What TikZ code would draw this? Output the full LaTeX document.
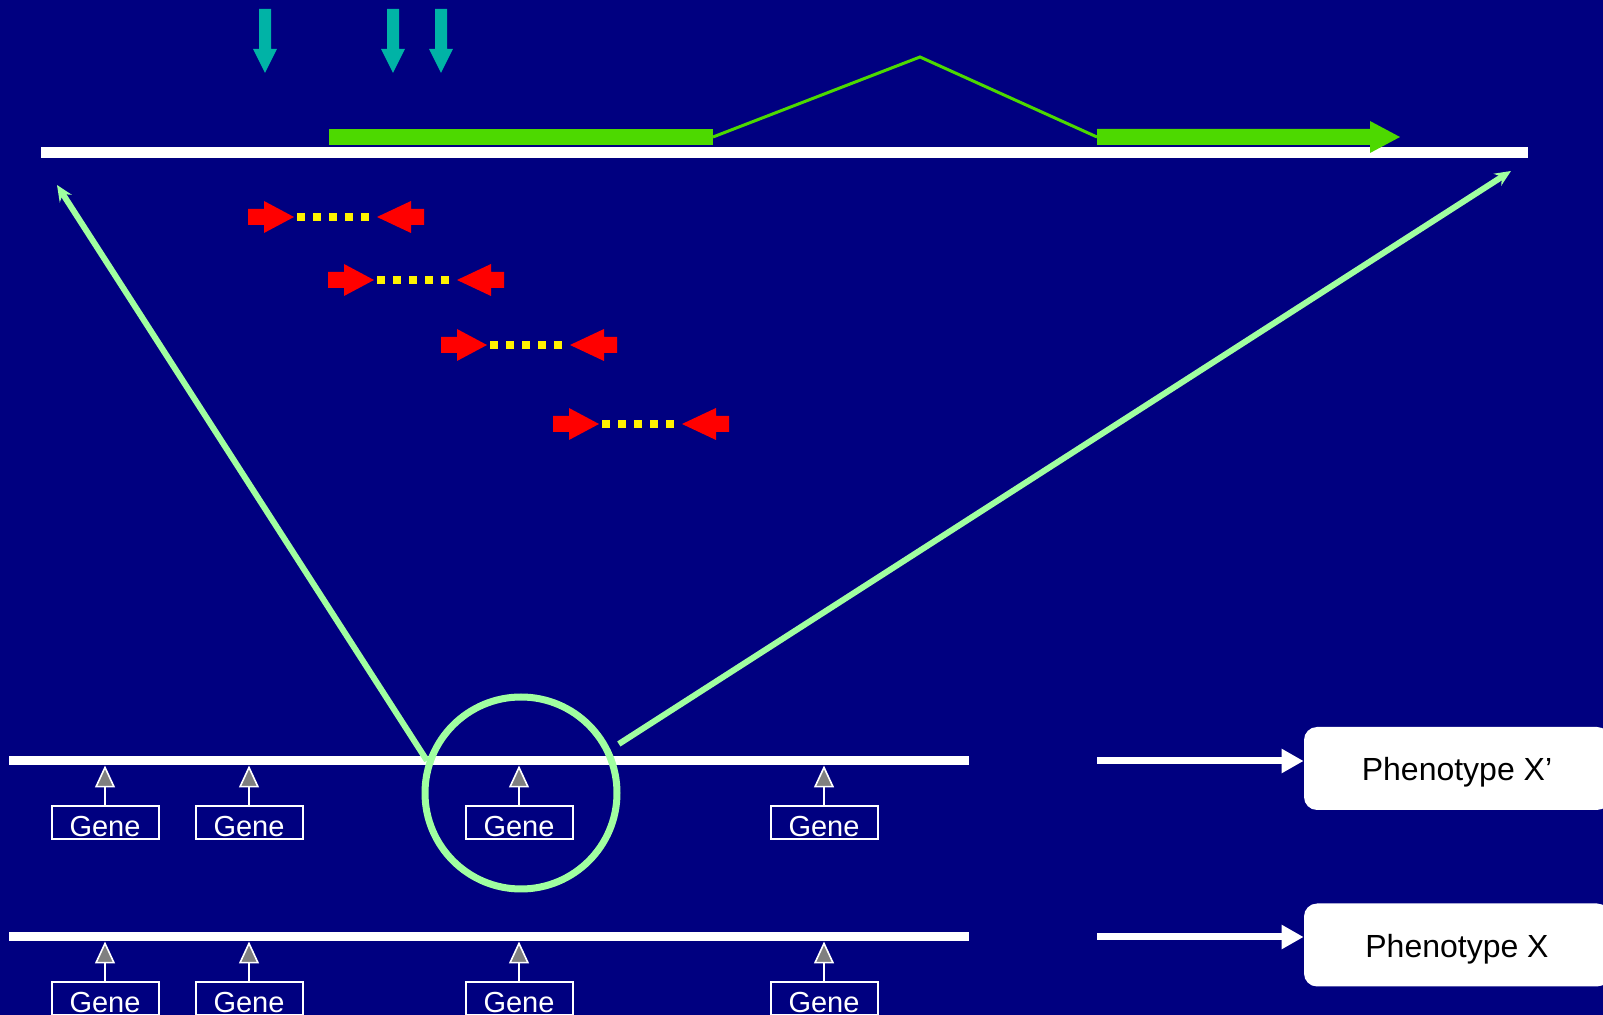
\documentclass[tikz,border=0pt]{standalone}
\usepackage{fontspec}
\setmainfont{Liberation Sans}
\usetikzlibrary{arrows.meta}
\definecolor{slidebg}{RGB}{0,0,128}
\definecolor{exongreen}{RGB}{77,217,0}
\definecolor{palegreen}{RGB}{160,255,160}
\definecolor{tealmark}{RGB}{0,179,166}
\definecolor{greytip}{RGB}{128,128,128}

\begin{document}
\begin{tikzpicture}[x=0.5pt,y=-0.5pt,
  genebox/.style={draw=white,line width=1pt,minimum width=53.5pt,minimum height=16.5pt,
    inner sep=0pt,text height=13.3pt,text depth=0pt,text=white,font=\fontsize{14.5}{16}\selectfont},
  phenobox/.style={fill=white,rounded corners=6.5pt,minimum width=153pt,minimum height=41.5pt,
    inner sep=0pt,text height=14pt,text depth=1.7pt,font=\fontsize{16}{18}\selectfont},
  chrom/.style={white,line width=4.5pt},
  geneup/.style={white,line width=0.8pt,-{Triangle[length=11pt,width=10pt,fill=greytip]}},
  zoomline/.style={palegreen,line width=3pt,-{Stealth[length=8pt,width=7pt]}},
  tophen/.style={white,line width=3.5pt,-{Triangle[length=11pt,width=11.5pt]}}]
  \clip (0,0) rectangle (1603,1015);
  \fill[slidebg] (0,0) rectangle (1603,1015);
  % transcript on the genomic line
  \draw[white,line width=5.5pt] (41,152.5) -- (1528,152.5);
  \fill[exongreen] (329,129) rectangle (713,145);
  \draw[exongreen,line width=1.5pt] (713,137) -- (920,57) -- (1097,137);
  \fill[exongreen] (1097,129) -- (1370,129) -- (1370,121) -- (1400,137) -- (1370,153)
    -- (1370,145) -- (1097,145) -- cycle;
  \foreach \x in {265,393,441}
    \fill[tealmark] (\x-6,9) -- (\x+6,9) -- (\x+6,49) -- (\x+12,49) -- (\x,73)
      -- (\x-12,49) -- (\x-6,49) -- cycle;
  % primer pairs
  \foreach \a/\y in {248/217,328/280,441/345,553/424}{
    \fill[red] (\a,\y-8) -- (\a+16,\y-8) -- (\a+16,\y-16) -- (\a+46,\y) -- (\a+16,\y+16)
      -- (\a+16,\y+8) -- (\a,\y+8) -- cycle;
    \fill[red] (\a+129,\y) -- (\a+163,\y-16) -- (\a+163,\y-8) -- (\a+176,\y-8)
      -- (\a+176,\y+8) -- (\a+163,\y+8) -- (\a+163,\y+16) -- cycle;
    \foreach \k in {0,...,4}
      \fill[yellow] (\a+49+16*\k,\y-4) rectangle ++(8,8);
  }
  % chromosomes with genes
  \draw[chrom] (9,761) -- (969,761);
  \draw[chrom] (9,937) -- (969,937);
  \coordinate (chrA) at (0,765.5);
  \coordinate (chrB) at (0,941.5);
  \foreach \g/\x in {a/105,b/249,c/519,d/824}{
    \node[genebox] (top\g) at (\x,823) {Gene};
    \draw[geneup] (top\g.north) -- (top\g.north |- chrA);
    \node[genebox] (bot\g) at (\x,999) {Gene};
    \draw[geneup] (bot\g.north) -- (bot\g.north |- chrB);
  }
  \coordinate (lineL) at (57,185);
  \coordinate (lineR) at (1511,171);
  \node[circle,draw=palegreen,line width=3.5pt,minimum size=96pt,inner sep=0pt] (zoomring) at (521,793) {};
  \draw[zoomline] (zoomring.161) -- (lineL);
  \draw[zoomline,shorten <=5pt] (zoomring.26) -- (lineR);
  % phenotypes
  \node[phenobox] (phenoB) at (1457,768.5) {Phenotype X’};
  \node[phenobox] (phenoA) at (1457,945) {Phenotype X};
  \coordinate (sigB) at (1097,761);
  \coordinate (sigA) at (1097,937);
  \draw[tophen] (sigB) -- (sigB -| phenoB.west);
  \draw[tophen] (sigA) -- (sigA -| phenoA.west);
\end{tikzpicture}
\end{document}
